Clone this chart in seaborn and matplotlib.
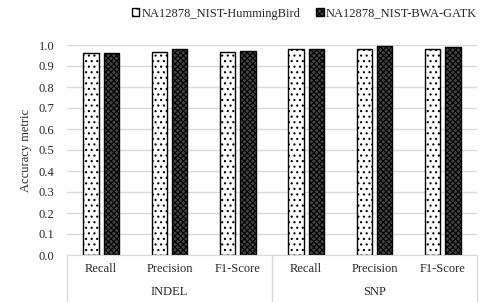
import pandas as pd
import matplotlib
matplotlib.use('Agg')
import matplotlib.pyplot as plt
import seaborn as sns
from matplotlib.patches import Patch

groups = ['INDEL', 'INDEL', 'INDEL', 'SNP', 'SNP', 'SNP']
metrics = ['Recall', 'Precision', 'F1-Score', 'Recall', 'Precision', 'F1-Score']
hummingbird = [0.960, 0.965, 0.965, 0.979, 0.979, 0.979]
bwa_gatk = [0.960, 0.979, 0.970, 0.979, 0.995, 0.989]
series = ['NA12878_NIST-HummingBird', 'NA12878_NIST-BWA-GATK']
yticks = [0.0, 0.1, 0.2, 0.3, 0.4, 0.5, 0.6, 0.7, 0.8, 0.9, 1.0]

LIGHT_HATCH = '...'
DARK_HATCH = 'xxxxxx'
DARK_FACE = '#444444'


def build_frame():
    rows = []
    for i in range(len(metrics)):
        rows.append({'pos': i, 'value': hummingbird[i], 'series': series[0]})
        rows.append({'pos': i, 'value': bwa_gatk[i], 'series': series[1]})
    return pd.DataFrame(rows)


def main():
    sns.set_style('white')
    plt.rcParams['font.family'] = ['Liberation Serif', 'DejaVu Serif']
    plt.rcParams['hatch.linewidth'] = 0.8

    df = build_frame()
    fig = plt.figure(figsize=(4.95, 3.02), dpi=100)
    ax = fig.add_axes([67 / 495, 1 - 255 / 302, 410 / 495, 210 / 302])

    sns.barplot(data=df, x='pos', y='value', hue='series', hue_order=series,
                width=0.6, gap=0.25, ax=ax, legend=False,
                palette=['white', 'white'], edgecolor='black', linewidth=1.0)

    n = len(metrics)
    for k, bar in enumerate(ax.patches[:2 * n]):
        if k < n:
            bar.set_hatch(LIGHT_HATCH)
            bar.set_facecolor('white')
        else:
            bar.set_hatch(DARK_HATCH)
            bar.set_facecolor(DARK_FACE)

    ax.set_ylim(0, 1.0)
    ax.set_xlim(-0.5, n - 0.5)
    ax.set_yticks(yticks)
    ax.set_yticklabels([f'{t:.1f}' for t in yticks], fontsize=9)
    ax.yaxis.grid(True, color='#d9d9d9', linewidth=1)
    ax.set_axisbelow(True)
    ax.tick_params(axis='y', length=0, pad=9)
    ax.set_xticks(range(n))
    ax.set_xticklabels(metrics, fontsize=9)
    ax.tick_params(axis='x', length=0, pad=6)
    ax.set_xlabel('')
    ax.set_ylabel('Accuracy metric', fontsize=9, labelpad=5)
    for s in ['top', 'right', 'left']:
        ax.spines[s].set_visible(False)
    ax.spines['bottom'].set_color('#d9d9d9')

    # group separators and group labels
    for xpos in [-0.5, 2.5, 5.5]:
        ax.plot([xpos, xpos], [0, -0.23], color='#d9d9d9', lw=1,
                clip_on=False, transform=ax.get_xaxis_transform())
    ax.text(1, -0.175, 'INDEL', ha='center', va='center', fontsize=9,
            transform=ax.get_xaxis_transform())
    ax.text(4, -0.175, 'SNP', ha='center', va='center', fontsize=9,
            transform=ax.get_xaxis_transform())

    # legend
    handles = [Patch(facecolor='white', edgecolor='black', hatch='..'),
               Patch(facecolor=DARK_FACE, edgecolor='black', hatch=DARK_HATCH)]
    fig.legend(handles, series, loc='center', bbox_to_anchor=(0.615, 0.955),
               ncol=2, frameon=False, fontsize=9, handlelength=0.6,
               handleheight=0.6, handletextpad=0.15, columnspacing=1.3,
               borderpad=0, borderaxespad=0)

    fig.savefig('out.png', dpi=100)


if __name__ == '__main__':
    main()
